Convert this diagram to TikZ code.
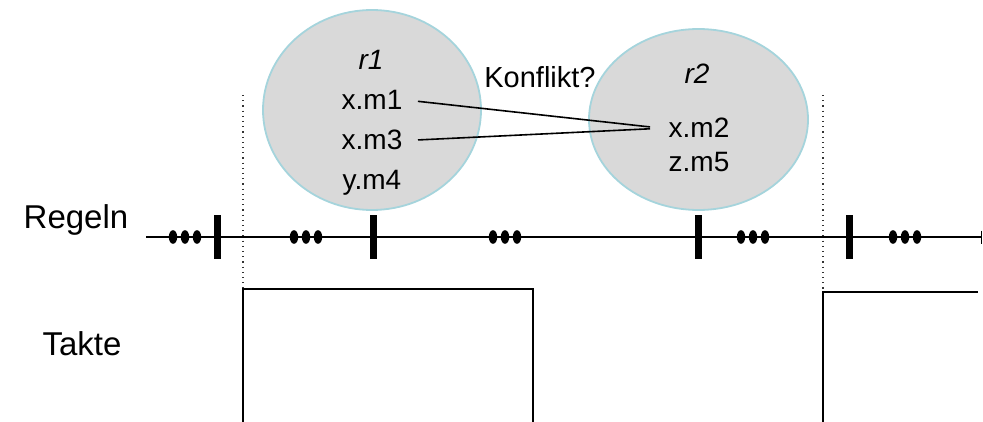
\documentclass[tikz,border=0pt]{standalone}
\usepackage{fontspec}
\setmainfont{Liberation Sans}
\usetikzlibrary{shapes.geometric,arrows.meta}
\definecolor{bubblegray}{RGB}{217,217,217}
\definecolor{bubblerim}{RGB}{165,212,220}

\begin{document}
\begin{tikzpicture}[x=0.5pt,y=-0.5pt]
\tikzset{rule/.style={ellipse,draw=bubblerim,line width=0.9pt,fill=bubblegray,inner sep=0pt},
  member/.style={font=\fontsize{14}{16}\selectfont,anchor=base},
  axislabel/.style={font=\fontsize{16.5}{19}\selectfont,anchor=base}}
\useasboundingbox (0,0) rectangle (983,422);

\draw[dotted,line width=0.6pt,black!80] (243,95) -- (243,422);
\draw[dotted,line width=0.6pt,black!80] (823,95) -- (823,422);

\path (372,110) node[rule,minimum width=109pt,minimum height=100pt] (r1) {};
\path (698.5,119.5) node[rule,minimum width=109.5pt,minimum height=90.5pt] (r2) {};

\path (371,70) node[member,font=\fontsize{14}{16}\selectfont\itshape] (r1name) {r1};
\path (372,110) node[member] (m1) {x.m1};
\path (372,150) node[member] (m3) {x.m3};
\path (372,190) node[member] (m4) {y.m4};

\path (697,84) node[member,font=\fontsize{14}{16}\selectfont\itshape] (r2name) {r2};
\path (699,138) node[member] (m2) {x.m2};
\path (699,171) node[member] (m5) {z.m5};

\path (540,88) node[member,font=\fontsize{14.5}{17}\selectfont] (conflict) {Konflikt?};

\draw[line width=0.8pt,shorten <=4.3pt,shorten >=5.8pt] (m1.east) -- (m2.west);
\draw[line width=0.8pt,shorten <=4.3pt,shorten >=5.8pt] (m3.east) -- (m2.west);

\path (76,228) node[axislabel] (regeln) {Regeln};
\path (82,355) node[axislabel] (takte) {Takte};

\draw[line width=1.3pt,-{Bar[width=6.5pt,line width=0.6pt]}] (146,237) -- (982,237);
\foreach \x in {217,373,698,849}
  \fill (\x-3.5,215) rectangle (\x+3.5,259);
\foreach \x in {185,306,505,753,905}
  \foreach \d in {-12,0,12}
    \fill (\x+\d,237) ellipse (2.1pt and 3.4pt);

\draw[line width=1pt] (243,422) -- (243,289) -- (533,289) -- (533,422);
\draw[line width=1pt] (823,422) -- (823,292) -- (978,292);
\end{tikzpicture}
\end{document}
